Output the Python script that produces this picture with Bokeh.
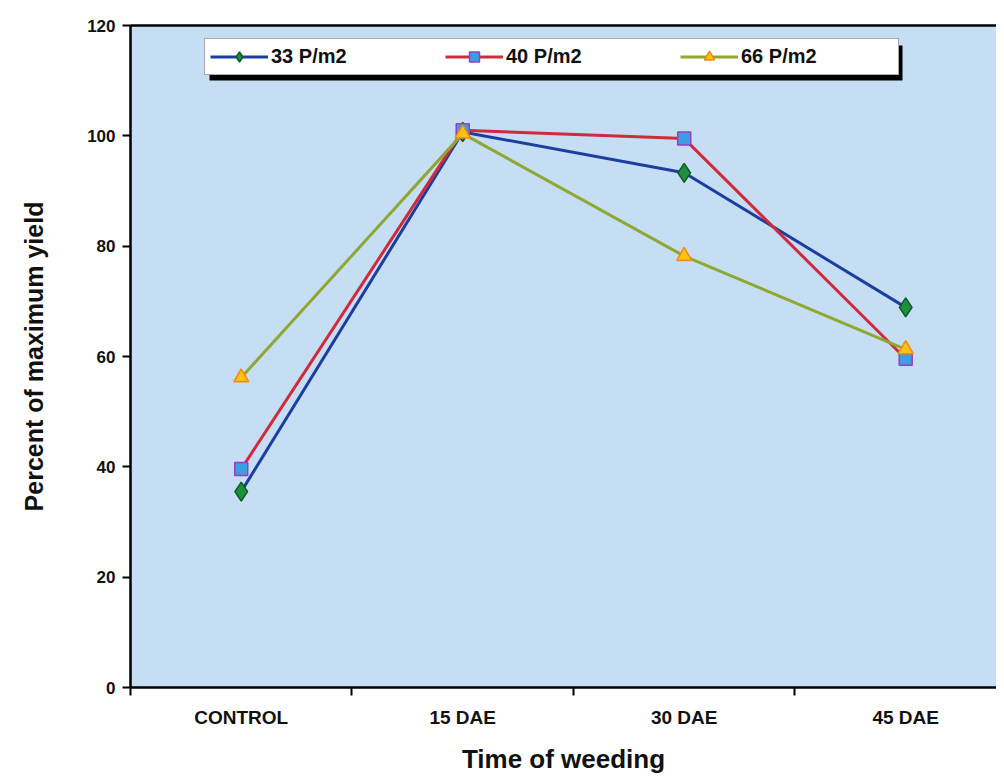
from bokeh.plotting import figure
from bokeh.models import (Range1d, LinearAxis, FixedTicker, Legend, LegendItem,
                          BoxAnnotation)
from bokeh.embed import file_html
from bokeh.resources import INLINE

# ---- data ----
categories = ["CONTROL", "15 DAE", "30 DAE", "45 DAE"]
series_names = ["33 P/m2", "40 P/m2", "66 P/m2"]
y_33 = [35.5, 100.7, 93.3, 68.9]
y_40 = [39.6, 101.0, 99.5, 59.6]
y_66 = [56.2, 100.4, 78.2, 61.3]
y_ticks = [0, 20, 40, 60, 80, 100, 120]

FONT = "Liberation Sans"

x_pos = [i + 0.5 for i in range(len(categories))]
x_bounds = list(range(len(categories) + 1))

p = figure(width=996, height=776, output_backend="svg", toolbar_location=None,
           x_range=Range1d(0, 3.91), y_range=Range1d(0, 120),
           x_axis_type=None, y_axis_type=None,
           min_border_left=130, min_border_right=0, min_border_top=25,
           min_border_bottom=89)
p.background_fill_color = "#c6def4"
p.border_fill_color = "white"
p.outline_line_color = None
p.xgrid.visible = False
p.ygrid.visible = False

# y axis
yax = LinearAxis(ticker=FixedTicker(ticks=y_ticks, minor_ticks=[]),
                 axis_label="Percent of maximum yield")
yax.axis_line_color = "black"
yax.axis_line_width = 2.5
yax.major_tick_out = 8
yax.major_tick_in = 0
yax.major_tick_line_width = 2
yax.major_label_text_font = FONT
yax.major_label_text_font_style = "bold"
yax.major_label_text_font_size = "17px"
yax.major_label_text_color = "#111111"
yax.major_label_standoff = 7
yax.axis_label_text_font = FONT
yax.axis_label_text_font_style = "bold"
yax.axis_label_text_font_size = "25px"
yax.axis_label_text_color = "#111111"
yax.axis_label_standoff = 36
p.add_layout(yax, "left")

# x axis: labels at category centres, ticks at boundaries (as minor ticks)
xax = LinearAxis(ticker=FixedTicker(ticks=x_pos, minor_ticks=x_bounds),
                 axis_label="Time of weeding")
xax.major_label_overrides = {x: c for x, c in zip(x_pos, categories)}
xax.axis_line_color = "black"
xax.axis_line_width = 2.5
xax.major_tick_out = 0
xax.major_tick_in = 0
xax.minor_tick_out = 8
xax.minor_tick_in = 0
xax.minor_tick_line_width = 2
xax.minor_tick_line_color = "black"
xax.major_label_text_font = FONT
xax.major_label_text_font_style = "bold"
xax.major_label_text_font_size = "19px"
xax.major_label_text_color = "#111111"
xax.major_label_standoff = 11
xax.axis_label_text_font = FONT
xax.axis_label_text_font_style = "bold"
xax.axis_label_text_font_size = "26px"
xax.axis_label_text_color = "#111111"
xax.axis_label_standoff = 13
p.add_layout(xax, "below")

# top border line
tax = LinearAxis(ticker=FixedTicker(ticks=[], minor_ticks=[]))
tax.axis_line_color = "black"
tax.axis_line_width = 2.5
tax.major_label_text_font_size = "0px"
tax.major_tick_out = 0
p.add_layout(tax, "above")

styles = [
    dict(vals=y_33, line="#1c3f9e", marker="diamond", size=19,
         fill="#1e8f3e", mline="#0d5a22"),
    dict(vals=y_40, line="#d02a3c", marker="square", size=13,
         fill="#3a9ee0", mline="#9a3cc8"),
    dict(vals=y_66, line="#8fa832", marker="triangle", size=15,
         fill="#ffc20e", mline="#f08a10"),
]

items = []
for name, st in zip(series_names, styles):
    r1 = p.line(x_pos, st["vals"], line_color=st["line"], line_width=3)
    r2 = p.scatter(x_pos, st["vals"], marker=st["marker"], size=st["size"],
                   fill_color=st["fill"], line_color=st["mline"], line_width=1.5)
    items.append(LegendItem(label=name, renderers=[r1, r2]))

# legend geometry (pixels)
LG_LEFT, LG_BOTTOM = 74, 612          # from frame's lower-left corner
LG_PAD, LG_ROW = 5, 25
LG_GLYPH_W, LG_STANDOFF, LG_LABEL_W, LG_SPACING = 58, 3, 152, 22
n = len(items)
lg_w = 2 * LG_PAD + n * (LG_GLYPH_W + LG_STANDOFF + LG_LABEL_W) + (n - 1) * LG_SPACING
lg_h = 2 * LG_PAD + LG_ROW
frame_left, frame_top, frame_h = 130, 25, 776 - 25 - 89
box_left = frame_left + LG_LEFT
box_bottom = frame_top + frame_h - LG_BOTTOM
SH = 5
shadow = BoxAnnotation(left=box_left + SH, right=box_left + lg_w + SH,
                       top=box_bottom - lg_h + SH, bottom=box_bottom + SH,
                       left_units="canvas", right_units="canvas",
                       top_units="canvas", bottom_units="canvas",
                       fill_color="black", fill_alpha=1.0, line_color=None,
                       editable=False)
p.add_layout(shadow)

lg = Legend(items=items, orientation="horizontal", location=(LG_LEFT, LG_BOTTOM))
lg.padding = LG_PAD
lg.margin = 0
lg.spacing = LG_SPACING
lg.glyph_width = LG_GLYPH_W
lg.glyph_height = LG_ROW
lg.label_height = LG_ROW
lg.label_width = LG_LABEL_W
lg.label_standoff = LG_STANDOFF
lg.label_text_font = FONT
lg.label_text_font_style = "bold"
lg.label_text_color = "#111111"
lg.label_text_font_size = "20px"
lg.background_fill_color = "white"
lg.background_fill_alpha = 1.0
lg.border_line_color = "#555555"
lg.border_line_width = 1
p.add_layout(lg, "center")

open("out.html", "w").write(file_html(p, INLINE))
